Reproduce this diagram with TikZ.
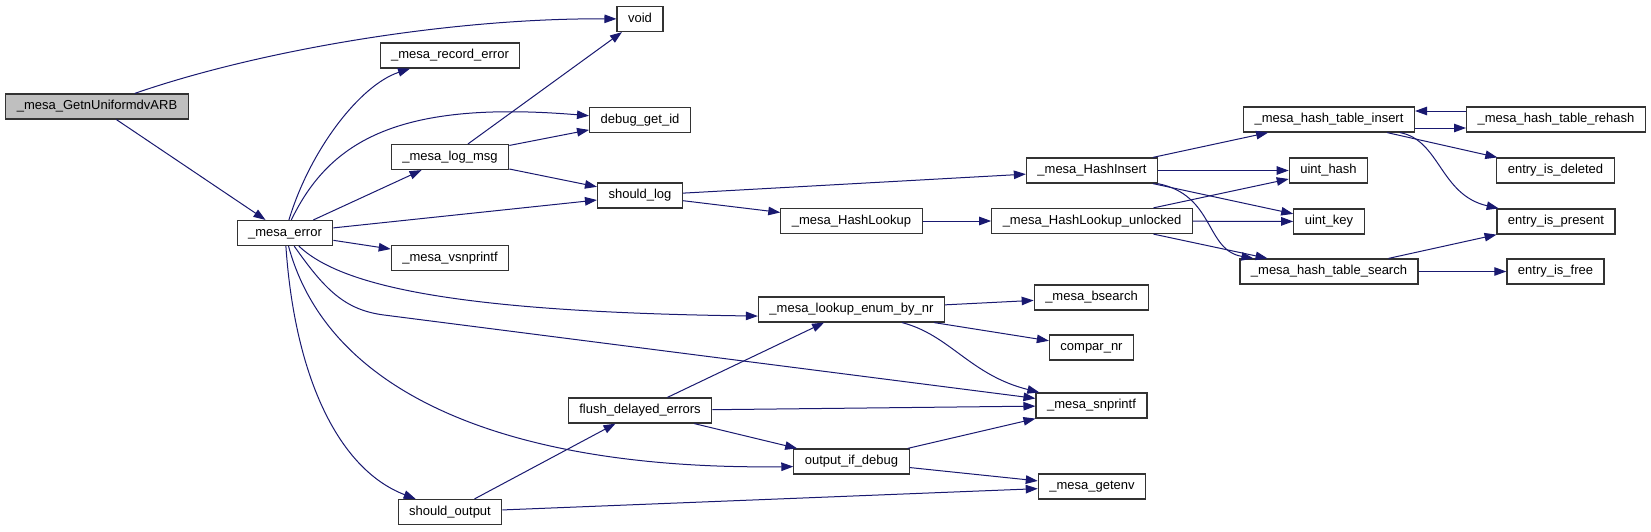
\documentclass[tikz,border=0pt]{standalone}
\usepackage{fontspec}
\setmainfont{Liberation Sans}
\usetikzlibrary{arrows.meta}
\definecolor{edgeblue}{HTML}{191970}
\definecolor{rootgray}{HTML}{BFBFBF}

\begin{document}
\begin{tikzpicture}[x=1pt,y=-1pt,
  fn/.style={draw=black!80, line width=1.2pt, fill=white, minimum height=25pt,
    inner xsep=11pt, inner ysep=0pt, text height=9.5pt, text depth=2.8pt,
    font=\fontsize{13pt}{15pt}\selectfont},
  call/.style={draw=edgeblue, line width=1pt, -{Triangle[length=12pt,width=8.5pt]}}]
  \useasboundingbox[fill=white] (0,0) rectangle (1651,531);
  % callers
  \node[fn, fill=rootgray] (root) at (97,106.5) {\_mesa\_GetnUniformdvARB};
  \node[fn] (merr) at (285,233) {\_mesa\_error};
  % third column
  \node[fn] (rec) at (450,55.5) {\_mesa\_record\_error};
  \node[fn] (logmsg) at (450,157) {\_mesa\_log\_msg};
  \node[fn] (vsn) at (450,258) {\_mesa\_vsnprintf};
  \node[fn] (sout) at (450,512) {should\_output};
  % fourth column
  \node[fn] (void) at (640,19) {void};
  \node[fn] (dbg) at (640,120) {debug\_get\_id};
  \node[fn] (shlog) at (640,195.5) {should\_log};
  \node[fn] (flush) at (640,410.5) {flush\_delayed\_errors};
  % fifth column
  \node[fn] (hlook) at (851.5,221) {\_mesa\_HashLookup};
  \node[fn] (lookup) at (851.5,309.5) {\_mesa\_lookup\_enum\_by\_nr};
  \node[fn] (outdbg) at (851.5,461.5) {output\_if\_debug};
  % sixth column
  \node[fn] (hins) at (1092,170.5) {\_mesa\_HashInsert};
  \node[fn] (hunl) at (1092,221) {\_mesa\_HashLookup\_unlocked};
  \node[fn] (bsearch) at (1091.5,297.5) {\_mesa\_bsearch};
  \node[fn] (compar) at (1091.5,347.5) {compar\_nr};
  \node[fn] (snp) at (1091.5,405.5) {\_mesa\_snprintf};
  \node[fn] (getenv) at (1092,486.5) {\_mesa\_getenv};
  % hash table
  \node[fn] (tins) at (1329,119.5) {\_mesa\_hash\_table\_insert};
  \node[fn] (uhash) at (1328.5,170.5) {uint\_hash};
  \node[fn] (ukey) at (1329,221.5) {uint\_key};
  \node[fn] (tsearch) at (1329,271.5) {\_mesa\_hash\_table\_search};
  \node[fn] (treh) at (1556,119.5) {\_mesa\_hash\_table\_rehash};
  \node[fn] (edel) at (1555.5,170.5) {entry\_is\_deleted};
  \node[fn] (epres) at (1556,221.5) {entry\_is\_present};
  \node[fn] (efree) at (1555.5,271.5) {entry\_is\_free};
  % root
  \draw[call] (root) .. controls (260,50) and (450,18) .. (void);
  \draw[call] (root) -- (merr);
  % _mesa_error
  \draw[call] (merr) .. controls (310,150) and (360,85) .. (rec);
  \draw[call] (merr) .. controls (330,140) and (400,100) .. (dbg);
  \draw[call] (merr) -- (logmsg);
  \draw[call] (merr) -- (shlog);
  \draw[call] (merr) -- (vsn);
  \draw[call] (merr) .. controls (340,285) and (450,312) .. (lookup.184);
  \draw[call] (merr) .. controls (325,290) and (345,310) .. (384,315) -- (snp);
  \draw[call] (merr) .. controls (330,400) and (520,470) .. (outdbg.185);
  \draw[call] (merr) .. controls (295,380) and (340,470) .. (sout);
  % _mesa_log_msg
  \draw[call] (logmsg) -- (void);
  \draw[call] (logmsg) -- (dbg);
  \draw[call] (logmsg) -- (shlog);
  % should_log
  \draw[call] (shlog) -- (hins);
  \draw[call] (shlog) -- (hlook);
  \draw[call] (hlook) -- (hunl);
  % _mesa_HashInsert
  \draw[call] (hins) -- (tins);
  \draw[call] (hins) -- (uhash);
  \draw[call] (hins) -- (ukey);
  \draw[call] (hins) .. controls (1215,195) and (1205,250) .. (tsearch);
  % _mesa_HashLookup_unlocked
  \draw[call] (hunl) -- (uhash);
  \draw[call] (hunl) -- (ukey);
  \draw[call] (hunl) -- (tsearch);
  % hash table
  \draw[call] ([yshift=-8.5pt]tins.east) -- ([yshift=-8.5pt]treh.west);
  \draw[call] ([yshift=8.5pt]treh.west) -- ([yshift=8.5pt]tins.east);
  \draw[call] (tins) -- (edel);
  \draw[call] (tins) .. controls (1440,140) and (1440,195) .. (epres);
  \draw[call] (tsearch) -- (epres);
  \draw[call] (tsearch) -- (efree);
  % _mesa_lookup_enum_by_nr
  \draw[call] (lookup) -- (bsearch);
  \draw[call] (lookup) -- (compar);
  \draw[call] (lookup) .. controls (950,335) and (970,375) .. (snp);
  % flush_delayed_errors
  \draw[call] (flush) -- (lookup);
  \draw[call] (flush) -- (snp);
  \draw[call] (flush) -- (outdbg);
  % output_if_debug
  \draw[call] (outdbg) -- (snp);
  \draw[call] (outdbg) -- (getenv);
  % should_output
  \draw[call] (sout) -- (flush);
  \draw[call] (sout) -- (getenv);
\end{tikzpicture}
\end{document}
